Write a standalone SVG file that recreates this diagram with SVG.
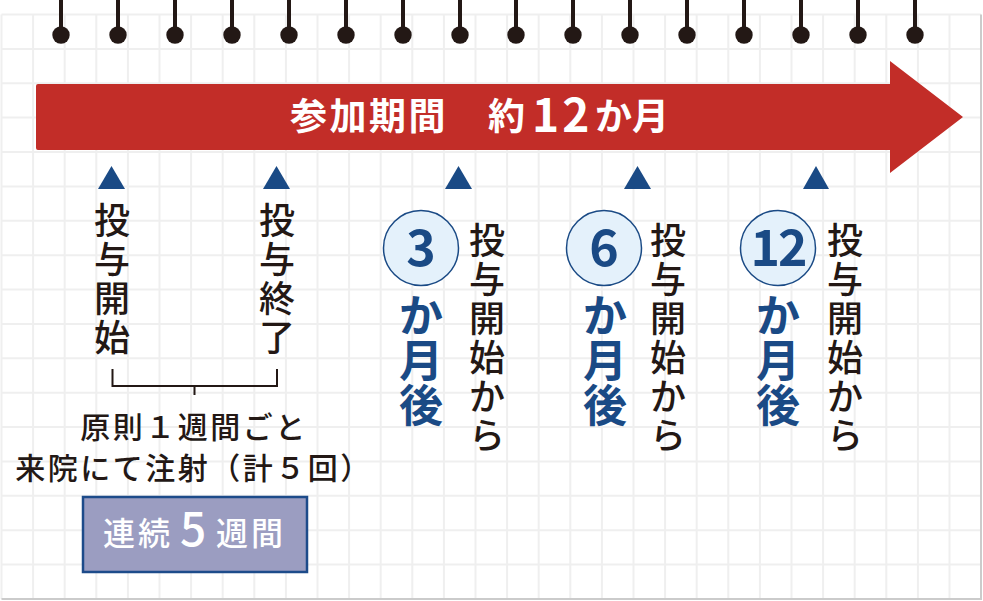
<svg xmlns="http://www.w3.org/2000/svg" width="983" height="601" viewBox="0 0 983 601">
<defs>
<style>
.grid{fill:none;stroke:#efefef;stroke-width:2}
.border{fill:none;stroke:#cbcbcb;stroke-width:2}
.ring{fill:#231815}
.stem{stroke:#231815;stroke-width:4}
.tri{fill:#1a4a85}
.jp{font-family:"Noto Sans CJK JP","Noto Sans",sans-serif}
.blk{fill:#231815;font-size:36px;font-weight:500}
.blue{fill:#1a4a85;font-weight:700}
.circ{fill:#e4f1fb;stroke:#1a4a85;stroke-width:1.5}
</style>
</defs>
<rect width="983" height="601" fill="#ffffff"/>
<g id="grid">
<path class="grid" d="M1.5,14.5H981M1.5,48.9H981M1.5,83.3H981M1.5,117.6H981M1.5,152H981M1.5,186.4H981M1.5,220.8H981M1.5,255.2H981M1.5,289.5H981M1.5,323.9H981M1.5,358.3H981M1.5,392.7H981M1.5,427.1H981M1.5,461.4H981M1.5,495.8H981M1.5,530.2H981M1.5,564.6H981"/>
<path class="grid" d="M1.5,14.5V599M33.1,14.5V599M64.7,14.5V599M96.3,14.5V599M127.9,14.5V599M159.5,14.5V599M191.1,14.5V599M222.7,14.5V599M254.3,14.5V599M285.9,14.5V599M317.5,14.5V599M349.1,14.5V599M380.7,14.5V599M412.3,14.5V599M443.9,14.5V599M475.5,14.5V599M507.1,14.5V599M538.7,14.5V599M570.3,14.5V599M601.9,14.5V599M633.5,14.5V599M665.1,14.5V599M696.7,14.5V599M728.3,14.5V599M759.9,14.5V599M791.5,14.5V599M823.1,14.5V599M854.7,14.5V599M886.3,14.5V599M917.9,14.5V599M949.5,14.5V599"/>
<path class="border" d="M981,14.5V599H1.5"/>
</g>
<g id="rings">
<path class="stem" d="M61,0V35M118,0V35M175,0V35M232,0V35M289,0V35M346,0V35M403,0V35M460,0V35M516,0V35M573,0V35M630,0V35M687,0V35M744,0V35M801,0V35M858,0V35M915,0V35"/>
<circle class="ring" cx="61" cy="35" r="8.7"/><circle class="ring" cx="118" cy="35" r="8.7"/><circle class="ring" cx="175" cy="35" r="8.7"/><circle class="ring" cx="232" cy="35" r="8.7"/><circle class="ring" cx="289" cy="35" r="8.7"/><circle class="ring" cx="346" cy="35" r="8.7"/><circle class="ring" cx="403" cy="35" r="8.7"/><circle class="ring" cx="460" cy="35" r="8.7"/><circle class="ring" cx="516" cy="35" r="8.7"/><circle class="ring" cx="573" cy="35" r="8.7"/><circle class="ring" cx="630" cy="35" r="8.7"/><circle class="ring" cx="687" cy="35" r="8.7"/><circle class="ring" cx="744" cy="35" r="8.7"/><circle class="ring" cx="801" cy="35" r="8.7"/><circle class="ring" cx="858" cy="35" r="8.7"/><circle class="ring" cx="915" cy="35" r="8.7"/>
</g>
<g id="period-arrow">
<path d="M38,84H890V61L963,117L890,173V150H38Q36,150 36,148V86Q36,84 38,84Z" fill="#c22d28"/>
<text class="jp" fill="#ffffff" font-weight="700" font-size="37"><tspan x="290" y="130" letter-spacing="2.5">参加期間</tspan><tspan x="488" y="130">約</tspan><tspan x="532" y="132" font-size="46" letter-spacing="3">12</tspan><tspan x="595" y="130">か</tspan><tspan x="632" y="130">月</tspan></text>
</g>
<g id="markers">
<polygon class="tri" points="98,189 111.5,166 125,189"/>
<polygon class="tri" points="263,189 276.5,166 290,189"/>
<polygon class="tri" points="445,189 458.5,166 472,189"/>
<polygon class="tri" points="624,189 637.5,166 651,189"/>
<polygon class="tri" points="803,189 816,166 829,189"/>
</g>
<g id="start">
<text class="jp blk" text-anchor="middle"><tspan x="112" y="234">投</tspan><tspan x="112" y="273">与</tspan><tspan x="112" y="312">開</tspan><tspan x="112" y="351">始</tspan></text>
</g>
<g id="end">
<text class="jp blk" text-anchor="middle"><tspan x="277" y="234">投</tspan><tspan x="277" y="273">与</tspan><tspan x="277" y="312">終</tspan><tspan x="277" y="351">了</tspan></text>
</g>
<g id="connectors">
<path d="M112.5,369V386H277V369M194.5,386V395" fill="none" stroke="#231815" stroke-width="2"/>
</g>
<g id="schedule-note">
<text class="jp" fill="#231815" font-size="30" font-weight="500" text-anchor="middle" letter-spacing="2.5"><tspan x="194" y="438">原則１週間ごと</tspan><tspan x="194" y="479">来院にて注射（計５回）</tspan></text>
</g>
<g id="five-weeks">
<rect x="83" y="497" width="224" height="75" fill="#9b9dc1" stroke="#1d4b8a" stroke-width="2.5"/>
<text class="jp" fill="#ffffff" font-size="32" font-weight="500"><tspan x="103" y="545" letter-spacing="3">連続</tspan><tspan x="180" y="546" font-size="46">5</tspan><tspan x="216" y="545" letter-spacing="3">週間</tspan></text>
</g>
<g id="m3">
<circle class="circ" cx="421" cy="248" r="37.5"/>
<text class="jp blue" font-size="50" text-anchor="middle" x="421" y="266">3</text>
<text class="jp blue" font-size="44" text-anchor="middle"><tspan x="421" y="332">か</tspan><tspan x="421" y="377">月</tspan><tspan x="421" y="422">後</tspan></text>
<text class="jp blk" text-anchor="middle"><tspan x="487" y="254">投</tspan><tspan x="487" y="293">与</tspan><tspan x="487" y="332">開</tspan><tspan x="487" y="371">始</tspan><tspan x="487" y="410">か</tspan><tspan x="487" y="449">ら</tspan></text>
</g>
<g id="m6">
<circle class="circ" cx="604" cy="248" r="37.5"/>
<text class="jp blue" font-size="50" text-anchor="middle" x="604" y="266">6</text>
<text class="jp blue" font-size="44" text-anchor="middle"><tspan x="605" y="332">か</tspan><tspan x="605" y="377">月</tspan><tspan x="605" y="422">後</tspan></text>
<text class="jp blk" text-anchor="middle"><tspan x="668" y="254">投</tspan><tspan x="668" y="293">与</tspan><tspan x="668" y="332">開</tspan><tspan x="668" y="371">始</tspan><tspan x="668" y="410">か</tspan><tspan x="668" y="449">ら</tspan></text>
</g>
<g id="m12">
<circle class="circ" cx="778" cy="248" r="37.5"/>
<text class="jp blue" font-size="50" text-anchor="middle" x="778" y="266" letter-spacing="-2">12</text>
<text class="jp blue" font-size="44" text-anchor="middle"><tspan x="778" y="332">か</tspan><tspan x="778" y="377">月</tspan><tspan x="778" y="422">後</tspan></text>
<text class="jp blk" text-anchor="middle"><tspan x="845" y="254">投</tspan><tspan x="845" y="293">与</tspan><tspan x="845" y="332">開</tspan><tspan x="845" y="371">始</tspan><tspan x="845" y="410">か</tspan><tspan x="845" y="449">ら</tspan></text>
</g>
</svg>
